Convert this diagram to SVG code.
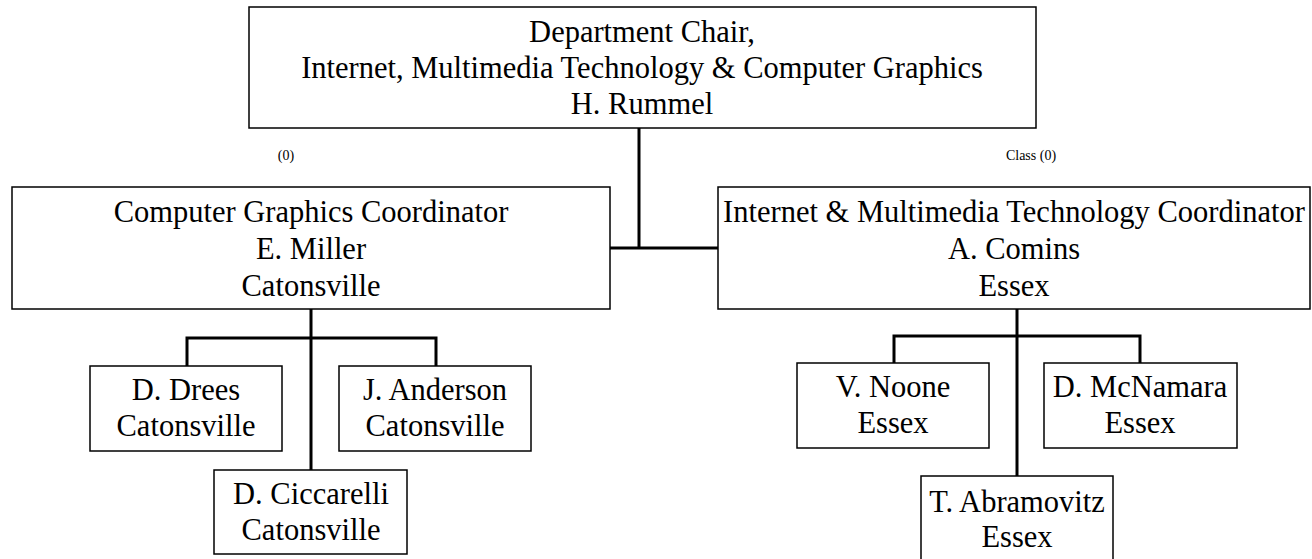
<svg xmlns="http://www.w3.org/2000/svg" width="1312" height="559" viewBox="0 0 1312 559">
<style>
.box{fill:#fff;stroke:#000;stroke-width:1.5}
.t{font-family:"Liberation Serif","Times New Roman",serif;font-size:30.5px;fill:#000;text-anchor:middle}
.s{font-family:"Liberation Serif","Times New Roman",serif;font-size:14px;fill:#000;text-anchor:middle}
.c{stroke:#000;stroke-width:3;fill:none}
</style>
<rect width="1312" height="559" fill="#fff"/>
<g id="connectors">
<path class="c" d="M639 128V248M610 248H718"/>
<path class="c" d="M311 309V470M187 366V338H436V366"/>
<path class="c" d="M1017 309V476M894 363V336H1140V363"/>
</g>
<g id="chair">
<rect class="box" x="249" y="7" width="787" height="121"/>
<text class="t" x="642" y="42">Department Chair,</text>
<text class="t" x="642" y="78">Internet, Multimedia Technology &amp; Computer Graphics</text>
<text class="t" x="642" y="114">H. Rummel</text>
</g>
<g id="labels">
<text class="s" x="286" y="160">(0)</text>
<text class="s" x="1031" y="160">Class (0)</text>
</g>
<g id="cg">
<rect class="box" x="12" y="187" width="598" height="122"/>
<text class="t" x="311" y="222">Computer Graphics Coordinator</text>
<text class="t" x="311" y="259">E. Miller</text>
<text class="t" x="311" y="296">Catonsville</text>
</g>
<g id="imt">
<rect class="box" x="718" y="187" width="592" height="122"/>
<text class="t" x="1014" y="222">Internet &amp; Multimedia Technology Coordinator</text>
<text class="t" x="1014" y="259">A. Comins</text>
<text class="t" x="1014" y="296">Essex</text>
</g>
<g id="drees">
<rect class="box" x="90" y="366" width="192" height="85"/>
<text class="t" x="186" y="400">D. Drees</text>
<text class="t" x="186" y="436">Catonsville</text>
</g>
<g id="anderson">
<rect class="box" x="339" y="366" width="192" height="85"/>
<text class="t" x="435" y="400">J. Anderson</text>
<text class="t" x="435" y="436">Catonsville</text>
</g>
<g id="ciccarelli">
<rect class="box" x="214" y="470" width="193" height="84"/>
<text class="t" x="311" y="504">D. Ciccarelli</text>
<text class="t" x="311" y="540">Catonsville</text>
</g>
<g id="noone">
<rect class="box" x="797" y="363" width="192" height="85"/>
<text class="t" x="893" y="397">V. Noone</text>
<text class="t" x="893" y="433">Essex</text>
</g>
<g id="mcnamara">
<rect class="box" x="1044" y="363" width="193" height="85"/>
<text class="t" x="1140" y="397">D. McNamara</text>
<text class="t" x="1140" y="433">Essex</text>
</g>
<g id="abramovitz">
<rect class="box" x="921" y="476" width="192" height="90"/>
<text class="t" x="1017" y="512">T. Abramovitz</text>
<text class="t" x="1017" y="547">Essex</text>
</g>
</svg>
